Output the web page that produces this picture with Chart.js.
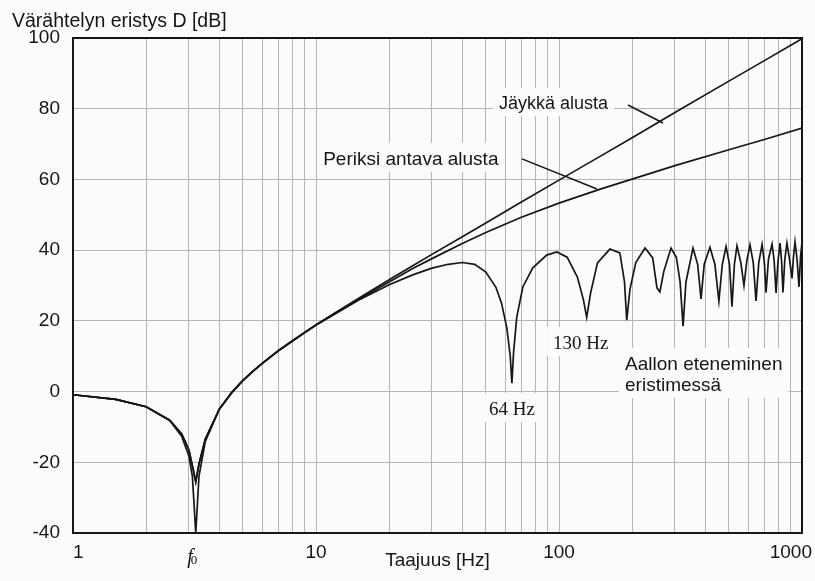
<!DOCTYPE html>
<html>
<head>
<meta charset="utf-8">
<script src="https://cdn.jsdelivr.net/npm/chart.js@4/dist/chart.umd.min.js"></script>
<style>
  html, body { margin: 0; padding: 0; background: #fbfbfb; }
  #wrap { width: 815px; height: 581px; }
</style>
</head>
<body>
<div id="wrap"><canvas id="chart" width="815" height="581"></canvas></div>
<script>
const FONT = '"Liberation Sans", Arial, sans-serif';
const SERIF = '"Liberation Serif", "Times New Roman", serif';
const INK = '#161616';

// axis ticks
const xGrid = [1, 2, 3, 4, 5, 6, 7, 8, 9, 10, 20, 30, 40, 50, 60, 70, 80, 90,
  100, 200, 300, 400, 500, 600, 700, 800, 900, 1000];
const xTickValues = [1, 10, 100, 1000];
const xTickLabels = ['1', '10', '100', '1000'];
const f0 = 3.2;

// Jäykkä alusta (rigid base)
const rigidFreq = [1, 1.5, 2, 2.5, 2.8, 3.0, 3.1, 3.2, 3.3, 3.5, 4, 4.5, 5, 5.5, 6, 7, 8, 9, 10,
  12, 15, 20, 25, 30, 40, 50, 70, 100, 150, 200, 300, 500, 700, 1000];
const rigidDb = [-0.9, -2.2, -4.3, -8.2, -12.6, -18.3, -24, -40, -23.9, -14.2, -5, -0.2, 3.2, 5.8, 8, 11.6, 14.4, 16.8, 18.9,
  22.3, 26.4, 31.6, 35.6, 38.8, 43.8, 47.7, 53.6, 59.8, 66.8, 71.8, 78.9, 87.8, 93.6, 99.8];

// Periksi antava alusta (flexible base)
const softFreq = [1, 1.5, 2, 2.5, 2.8, 3.0, 3.1, 3.2, 3.3, 3.5, 4, 4.5, 5, 5.5, 6, 7, 8, 9, 10,
  12, 15, 20, 25, 30, 40, 50, 70, 100, 150, 200, 300, 500, 700, 1000];
const softDb = [-0.9, -2.2, -4.3, -8.1, -12, -16.5, -21, -25.5, -20.5, -13.5, -5, -0.3, 3.1, 5.7, 7.9, 11.5, 14.3, 16.7, 18.8,
  22.1, 26.1, 31.0, 34.8, 37.6, 41.9, 45.0, 49.3, 53.3, 57.4, 60.1, 63.9, 68.4, 71.3, 74.5];

// Aallon eteneminen eristimessä (wave effects in the isolator)
const waveFreq = [1, 1.5, 2, 2.5, 2.8, 3.0, 3.1, 3.2, 3.3, 3.5, 4, 4.5, 5, 5.5, 6, 7, 8, 9, 10,
  12, 15, 20, 25, 30, 35, 40, 45, 50, 55, 58, 61, 63, 64, 65, 67, 71, 78, 89, 98, 108, 119, 126,
  130, 135, 144, 162, 178, 186, 190, 196, 207, 226, 243, 253, 260, 270, 289, 304, 315, 324, 333,
  356, 372, 384, 396, 418, 438, 455, 470, 487, 503, 515, 527, 540, 560, 577, 593, 611, 630, 647,
  664, 685, 700, 711, 728, 753, 768, 782, 797, 812, 824, 835, 850, 867, 888, 910, 922, 936, 954,
  972, 986, 1000];
const waveDb = [-0.9, -2.2, -4.3, -8.1, -12, -16.5, -21, -25.5, -20.5, -13.5, -5, -0.3, 3.1, 5.7, 7.9, 11.5, 14.3, 16.7, 18.8,
  22.0, 25.9, 30.2, 33.0, 34.9, 36.0, 36.5, 36.0, 33.8, 29.5, 25, 18, 10, 2.4, 11, 21, 29.6, 35, 38.6, 39.5, 38, 32.4, 26,
  21, 28, 36.4, 40.3, 39.2, 31, 20.2, 29, 36.5, 40.6, 37.8, 29.3, 28.2, 34, 40.6, 38.0, 31, 18.5, 31,
  40.6, 36, 26.2, 36, 40.8, 36, 25.6, 36, 41.0, 36, 24, 36, 41.2, 36.5, 30, 37, 41.5, 36.5, 25.6,
  36.5, 41.6, 36.5, 28, 37.5, 41.7, 37, 27.9, 37, 42, 37, 28, 37.5, 42, 37.5, 32, 38, 42.3, 37.5,
  29.6, 38, 42.3];

const points = (fs, ds) => fs.map((f, i) => ({ x: f, y: ds[i] }));
const lineStyle = { borderColor: INK, borderWidth: 1.7, pointRadius: 0, fill: false, tension: 0 };

// labels, leader lines, frame and the x tick texts
const notesPlugin = {
    id: 'notes',
    beforeDatasetsDraw(chart, args, opts) {
        const { ctx, scales: { x, y } } = chart;
        ctx.save();
        ctx.fillStyle = '#fbfbfb';
        opts.labels.forEach(n => {
            ctx.font = n.font;
            const px = x.getPixelForValue(n.f);
            const py = y.getPixelForValue(n.db);
            const w = Math.max(...n.text.map(t => ctx.measureText(t).width));
            const h = n.size + (n.text.length - 1) * n.lineHeight;
            ctx.fillRect(px - 6, py - n.size - 3, w + 12, h + 10);
        });
        ctx.restore();
    },
    afterDatasetsDraw(chart, args, opts) {
        const { ctx, chartArea: a, scales: { x, y } } = chart;
        ctx.save();
        ctx.strokeStyle = INK;
        ctx.lineWidth = 2;
        ctx.strokeRect(a.left, a.top, a.right - a.left, a.bottom - a.top);

        ctx.lineWidth = 1.5;
        opts.leaders.forEach(([p, q]) => {
            ctx.beginPath();
            ctx.moveTo(x.getPixelForValue(p[0]), y.getPixelForValue(p[1]));
            ctx.lineTo(x.getPixelForValue(q[0]), y.getPixelForValue(q[1]));
            ctx.stroke();
        });

        ctx.fillStyle = INK;
        ctx.textBaseline = 'alphabetic';
        ctx.textAlign = 'left';
        opts.labels.forEach(n => {
            ctx.font = n.font;
            const px = x.getPixelForValue(n.f);
            const py = y.getPixelForValue(n.db);
            n.text.forEach((t, i) => ctx.fillText(t, px, py + i * n.lineHeight));
        });

        // x tick labels
        ctx.font = `19px ${FONT}`;
        const last = xTickValues.length - 1;
        xTickValues.forEach((v, i) => {
            let px = x.getPixelForValue(v);
            ctx.textAlign = i === 0 ? 'left' : i === last ? 'right' : 'center';
            if (i === last) px += 10;
            ctx.fillText(xTickLabels[i], px, a.bottom + 25);
        });
        const fx = x.getPixelForValue(f0);
        ctx.font = `italic 20px ${SERIF}`;
        ctx.textAlign = 'right';
        ctx.fillText('f', fx - 3, a.bottom + 30);
        ctx.font = `13px ${SERIF}`;
        ctx.textAlign = 'left';
        ctx.fillText('0', fx - 5, a.bottom + 31);
        ctx.restore();
    }
};

new Chart(document.getElementById('chart'), {
    type: 'line',
    data: {
        datasets: [
            { label: 'Jäykkä alusta', data: points(rigidFreq, rigidDb), ...lineStyle },
            { label: 'Periksi antava alusta', data: points(softFreq, softDb), ...lineStyle },
            { label: 'Aallon eteneminen eristimessä', data: points(waveFreq, waveDb), ...lineStyle }
        ]
    },
    options: {
        responsive: false,
        animation: false,
        layout: { padding: { left: 12, right: 0, top: 0, bottom: 0 } },
        plugins: {
            legend: { display: false },
            tooltip: { enabled: false },
            title: {
                display: true,
                text: 'Värähtelyn eristys D [dB]',
                align: 'start',
                color: INK,
                font: { family: FONT, size: 19.5, weight: 'normal' },
                padding: { top: 9.5, bottom: 5.1 }
            },
            notes: {
                labels: [
                    { text: ['Jäykkä alusta'], f: 56.6, db: 79.9, font: `18px ${FONT}`, size: 18, lineHeight: 21 },
                    { text: ['Periksi antava alusta'], f: 10.7, db: 64.1, font: `19px ${FONT}`, size: 19, lineHeight: 21 },
                    { text: ['130 Hz'], f: 94.5, db: 12.05, font: `19px ${SERIF}`, size: 19, lineHeight: 21 },
                    { text: ['64 Hz'], f: 51.5, db: -6.6, font: `19px ${SERIF}`, size: 19, lineHeight: 21 },
                    { text: ['Aallon eteneminen', 'eristimessä'], f: 187, db: 6.1, font: `19px ${FONT}`, size: 19, lineHeight: 21 }
                ],
                leaders: [
                    [[192.3, 81.05], [268, 75.96]],
                    [[70.4, 65.8], [143.3, 57.3]]
                ]
            }
        },
        scales: {
            x: {
                type: 'logarithmic',
                min: 1,
                max: 1000,
                afterBuildTicks: s => { s.ticks = xGrid.map(v => ({ value: v })); },
                afterFit: s => { s.height = 48; s.paddingLeft = 0; s.paddingRight = 13; },
                ticks: { display: false },
                grid: { color: '#b4b4b4', lineWidth: 1, drawTicks: false },
                border: { display: false },
                title: {
                    display: true,
                    text: 'Taajuus [Hz]',
                    color: INK,
                    font: { family: FONT, size: 19 },
                    padding: { top: 0, bottom: 9 }
                }
            },
            y: {
                min: -40,
                max: 100,
                afterFit: s => { s.width = 61; },
                ticks: {
                    stepSize: 20,
                    padding: 13,
                    color: INK,
                    font: { family: FONT, size: 19 }
                },
                grid: { color: '#b4b4b4', lineWidth: 1, drawTicks: false },
                border: { display: false }
            }
        }
    },
    plugins: [notesPlugin]
});
</script>
</body>
</html>
